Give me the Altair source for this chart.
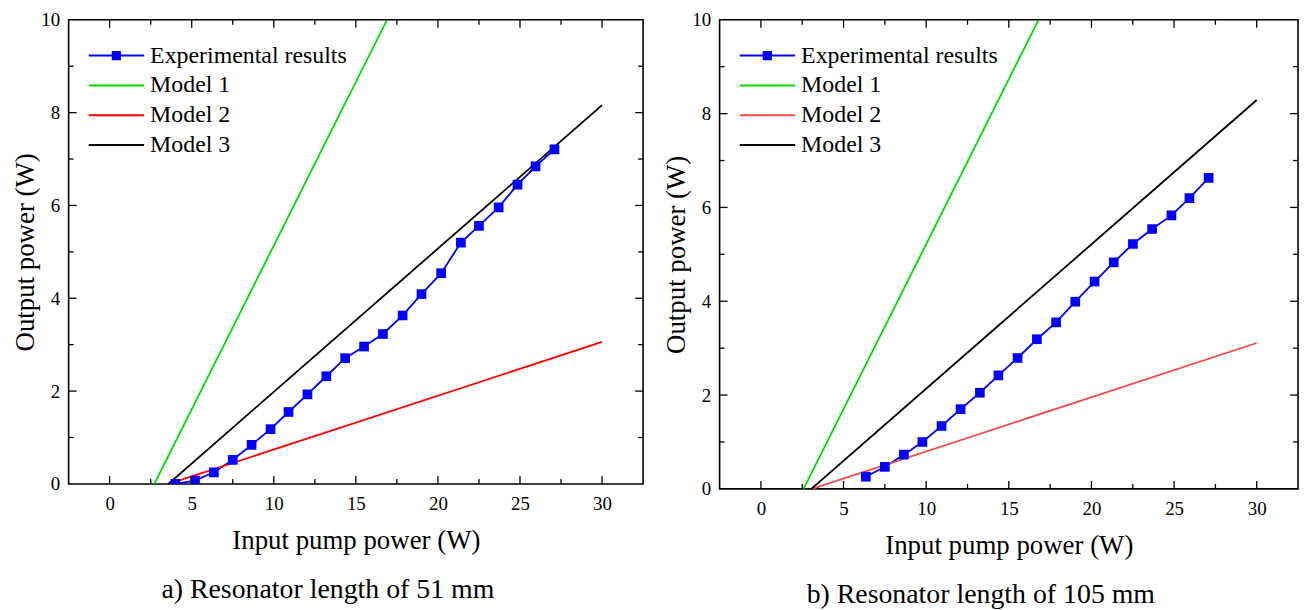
import altair as alt
import pandas as pd

SERIES = ["Experimental results", "Model 1", "Model 2", "Model 3"]

# ---- Panel a (51 mm) ----
a_exp_x = [4.0, 5.2, 6.35, 7.5, 8.65, 9.8, 10.9, 12.05, 13.2, 14.35, 15.5, 16.65,
           17.85, 19.0, 20.2, 21.4, 22.5, 23.7, 24.85, 25.95, 27.1]
a_exp_y = [0.0, 0.07, 0.25, 0.52, 0.84, 1.18, 1.55, 1.93, 2.32, 2.71, 2.96, 3.23,
           3.63, 4.09, 4.54, 5.2, 5.56, 5.96, 6.45, 6.84, 7.21]
a_m1_x, a_m1_y = [2.72, 16.9], [0.0, 10.0]
a_m2_x, a_m2_y = [3.6, 30.0], [0.0, 3.06]
a_m3_x, a_m3_y = [3.58, 30.0], [0.0, 8.16]

# ---- Panel b (105 mm) ----
b_exp_x = [6.35, 7.5, 8.65, 9.77, 10.93, 12.08, 13.25, 14.37, 15.53, 16.7, 17.86,
           19.02, 20.19, 21.35, 22.51, 23.67, 24.84, 25.93, 27.09]
b_exp_y = [0.26, 0.47, 0.73, 1.0, 1.34, 1.70, 2.05, 2.42, 2.79, 3.19, 3.55,
           3.99, 4.42, 4.83, 5.22, 5.54, 5.83, 6.2, 6.63]
b_m1_x, b_m1_y = [2.58, 16.8], [0.0, 10.0]
b_m2_x, b_m2_y = [3.1, 30.0], [0.0, 3.11]
b_m3_x, b_m3_y = [3.05, 30.0], [0.0, 8.29]

a_colors = ["#0000ff", "#00dd00", "#ff0000", "#000000"]
b_colors = ["#0000ff", "#00dd00", "#f04848", "#000000"]

x_major = [0, 5, 10, 15, 20, 25, 30]
x_minor = [2.5, 7.5, 12.5, 17.5, 22.5, 27.5]
y_major = [2, 4, 6, 8]
y_minor = [1, 3, 5, 7, 9]
y_labels = [0, 2, 4, 6, 8, 10]

FONT = "Liberation Serif"
EXP_PATH = "M-1,-0.036H1V0.036H-1Z M-0.165,-0.165H0.165V0.165H-0.165Z"
LINE_PATH = "M-1,-0.036H1V0.036H-1Z"


def panel(exp_x, exp_y, models, colors, caption, W, H):
    rows = [{"x": x, "y": y, "series": SERIES[0], "order": i}
            for i, (x, y) in enumerate(zip(exp_x, exp_y))]
    for name, (mx, my) in zip(SERIES[1:], models):
        rows += [{"x": x, "y": y, "series": name, "order": i}
                 for i, (x, y) in enumerate(zip(mx, my))]
    df = pd.DataFrame(rows)

    xs = alt.Scale(domain=[-2.5, 32.5], nice=False, zero=False)
    ys = alt.Scale(domain=[0, 10], nice=False, zero=False)
    cs = alt.Scale(domain=SERIES, range=colors)
    ss = alt.Scale(domain=SERIES, range=[EXP_PATH, LINE_PATH, LINE_PATH, LINE_PATH])

    xax = alt.Axis(values=x_major, tickSize=0, domain=False, grid=False,
                   labelFont=FONT, labelFontSize=19, labelColor="black", labelPadding=11,
                   title="Input pump power (W)", titleFont=FONT, titleFontSize=27,
                   titleFontWeight="normal", titleColor="black", titlePadding=14)
    yax = alt.Axis(values=y_labels, tickSize=0, domain=False, grid=False,
                   labelFont=FONT, labelFontSize=19, labelColor="black", labelPadding=9,
                   title="Output power (W)", titleFont=FONT, titleFontSize=27,
                   titleFontWeight="normal", titleColor="black", titlePadding=1)

    leg = alt.Legend(orient="none", legendX=20, legendY=21, title=None,
                     labelFont=FONT, labelFontSize=24, labelColor="black",
                     labelOffset=6, labelLimit=500, symbolSize=3136, symbolStrokeWidth=0,
                     symbolOpacity=1, clipHeight=30, rowPadding=0, padding=0)

    base = alt.Chart(df)
    X = alt.X("x:Q", scale=xs, axis=xax)
    Y = alt.Y("y:Q", scale=ys, axis=yax)

    layers = []
    # invisible layer that only carries the legend
    layers.append(base.mark_point(filled=True, opacity=0).encode(
        x=X, y=Y,
        color=alt.Color("series:N", scale=cs, legend=leg),
        shape=alt.Shape("series:N", scale=ss, legend=leg)))
    for name, col in zip(SERIES, colors):
        layers.append(base.transform_filter(alt.datum.series == name).mark_line(
            color=col, strokeWidth=1.8, clip=True).encode(x=X, y=Y, order="order:Q"))
    layers.append(base.transform_filter(alt.datum.series == SERIES[0]).mark_square(
        size=95, opacity=1, color=colors[0], clip=True).encode(x=X, y=Y))

    def ticks(values, side, length):
        d = pd.DataFrame({"v": values})
        m = alt.Chart(d).mark_rule(color="black", strokeWidth=1.3)
        TX = alt.X("v:Q", scale=xs, axis=xax)
        TY = alt.Y("v:Q", scale=ys, axis=yax)
        if side == "bottom":
            return m.encode(x=TX, y=alt.value(H), y2=alt.value(H - length))
        if side == "top":
            return m.encode(x=TX, y=alt.value(0), y2=alt.value(length))
        if side == "left":
            return m.encode(y=TY, x=alt.value(0), x2=alt.value(length))
        return m.encode(y=TY, x=alt.value(W), x2=alt.value(W - length))

    for side in ["bottom", "top"]:
        layers += [ticks(x_major, side, 8), ticks(x_minor, side, 5)]
    for side in ["left", "right"]:
        layers += [ticks(y_major, side, 8), ticks(y_minor, side, 5)]

    return alt.layer(*layers).properties(
        width=W, height=H,
        title=alt.TitleParams(caption, orient="bottom", anchor="middle", frame="bounds",
                              font=FONT, fontSize=28, fontWeight="normal", color="black",
                              offset=23))


pa = panel(a_exp_x, a_exp_y,
           [(a_m1_x, a_m1_y), (a_m2_x, a_m2_y), (a_m3_x, a_m3_y)],
           a_colors, "a) Resonator length of 51 mm", 578, 467)
pb = panel(b_exp_x, b_exp_y,
           [(b_m1_x, b_m1_y), (b_m2_x, b_m2_y), (b_m3_x, b_m3_y)],
           b_colors, "b) Resonator length of 105 mm", 582, 472)

chart = alt.hconcat(pa, pb, spacing=17).resolve_scale(
    color="independent", shape="independent").resolve_legend(
    color="independent", shape="independent").properties(
    padding={"top": 0, "left": 3, "right": 3, "bottom": 0}
).configure(background="white", font=FONT).configure_view(stroke="black", strokeWidth=1.6)

chart.save("out.html", embed_options={"renderer": "svg", "actions": False})
